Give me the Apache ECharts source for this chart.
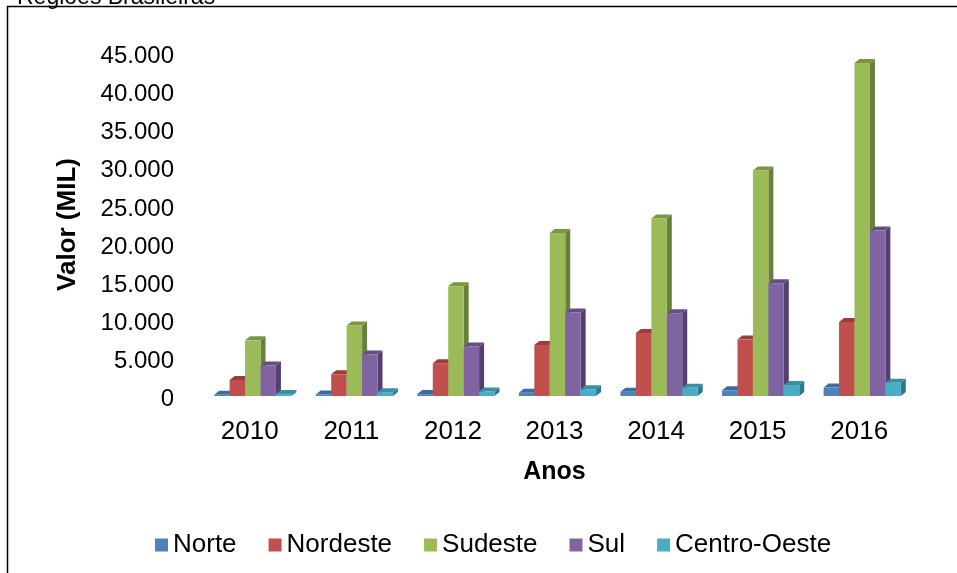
<!DOCTYPE html>
<html>
<head>
<meta charset="utf-8">
<script src="https://cdn.jsdelivr.net/npm/echarts@6/dist/echarts.min.js"></script>
<style>
  html, body { margin: 0; padding: 0; background: #fff; }
  #chart { width: 957px; height: 573px; }
</style>
</head>
<body>
<div id="chart"></div>
<script>
const anos = ['2010', '2011', '2012', '2013', '2014', '2015', '2016']
const norte = [150, 200, 250, 430, 560, 750, 1100]
const nordeste = [2100, 2850, 4300, 6700, 8250, 7400, 9700]
const sudeste = [7300, 9250, 14400, 21400, 23300, 29600, 43700]
const sul = [4000, 5450, 6500, 10950, 10850, 14800, 21700]
const centroOeste = [250, 500, 600, 880, 1090, 1440, 1750]
const yTicks = ['0', '5.000', '10.000', '15.000', '20.000', '25.000', '30.000', '35.000', '40.000', '45.000']

const font = '"Liberation Sans", Arial, sans-serif'

// front, top, side colours for the fake 3d columns
const regioes = [
  { name: 'Norte', data: norte, cor: ['#4F81BD', '#3F6A9E', '#325785'] },
  { name: 'Nordeste', data: nordeste, cor: ['#C0504D', '#9E3C39', '#8A3432'] },
  { name: 'Sudeste', data: sudeste, cor: ['#9BBB59', '#7A9640', '#68813A'] },
  { name: 'Sul', data: sul, cor: ['#8064A2', '#664E85', '#553F70'] },
  { name: 'Centro-Oeste', data: centroOeste, cor: ['#4BACC6', '#3A8FA6', '#2F788C'] }
]

const dx = 5
const dy = 4

function coluna(k, cor) {
  return function (params, api) {
    const base = api.coord([api.value(0), 0])
    const top = api.coord([api.value(0), api.value(1)])
    const band = api.size([1, 0])[0]
    const w = band * 0.152
    const x0 = base[0] + 3 + (k - 2.5) * w
    const x1 = x0 + w
    const y0 = base[1]
    const y1 = top[1]
    return {
      type: 'group',
      children: [{
        type: 'polygon',
        shape: { points: [[x1, y1], [x1 + dx, y1 - dy], [x1 + dx, y0 - dy], [x1, y0]] },
        style: { fill: cor[2] }
      }, {
        type: 'polygon',
        shape: { points: [[x0, y1], [x1, y1], [x1 + dx, y1 - dy], [x0 + dx, y1 - dy]] },
        style: { fill: cor[1] }
      }, {
        type: 'rect',
        shape: { x: x0, y: y1, width: w, height: y0 - y1 },
        style: { fill: cor[0] }
      }]
    }
  }
}

let option = {
  animation: false,
  textStyle: { fontFamily: font },
  graphic: [{
    type: 'text',
    x: 17,
    y: 9,
    style: { text: 'Regiões Brasileiras', fontSize: 23, fontFamily: font, fill: '#000', verticalAlign: 'bottom' }
  }, {
    type: 'polyline',
    shape: { points: [[7.5, 573], [7.5, 6.5], [957, 6.5]] },
    style: { stroke: '#000', lineWidth: 1.5, fill: null }
  }],
  legend: {
    left: 155,
    top: 532,
    padding: 0,
    icon: 'rect',
    itemWidth: 13,
    itemHeight: 13,
    itemGap: 32,
    textStyle: { fontSize: 26, color: '#000', fontFamily: font },
    data: regioes.map(r => r.name)
  },
  grid: {
    left: 199,
    top: 53,
    width: 711,
    height: 343
  },
  xAxis: {
    type: 'category',
    data: anos,
    name: 'Anos',
    nameLocation: 'middle',
    nameGap: 64,
    nameTextStyle: { fontSize: 25, fontWeight: 'bold', color: '#000', fontFamily: font },
    axisLine: { show: false },
    axisTick: { show: false },
    axisLabel: { fontSize: 26, color: '#000', margin: 23, fontFamily: font }
  },
  yAxis: {
    type: 'value',
    min: 0,
    max: 45000,
    interval: 5000,
    name: 'Valor (MIL)',
    nameLocation: 'middle',
    nameGap: 118,
    nameTextStyle: { fontSize: 26, fontWeight: 'bold', color: '#000', fontFamily: font },
    splitLine: { show: false },
    axisLine: { show: false },
    axisTick: { show: false },
    axisLabel: {
      color: '#000',
      margin: 25,
      fontFamily: font,
      formatter: v => '{t|' + yTicks[Math.round(v / 5000)] + '}',
      rich: {
        t: { fontSize: 24, color: '#000', fontFamily: font, padding: [7, 0, 0, 0] }
      }
    }
  },
  series: regioes.map((r, k) => ({
    name: r.name,
    type: 'custom',
    itemStyle: { color: r.cor[0] },
    renderItem: coluna(k, r.cor),
    encode: { x: 0, y: 1 },
    data: r.data.map((v, i) => [i, v])
  }))
}

const chart = echarts.init(document.getElementById('chart'))
chart.setOption(option)
</script>
</body>
</html>
